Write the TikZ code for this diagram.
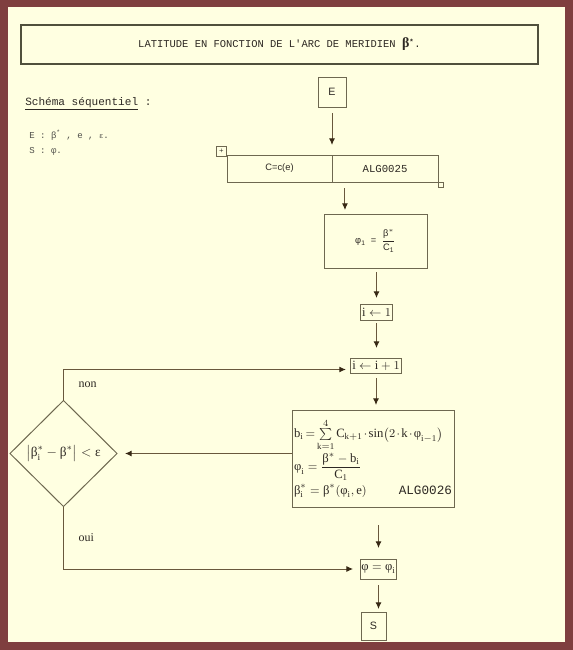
\documentclass[tikz,border=0pt]{standalone}
\usepackage{amsmath}
\usepackage{fontspec}
\setmainfont{Liberation Serif}
\setsansfont{Liberation Sans}
\setmonofont{Liberation Mono}
\usetikzlibrary{shapes.geometric, arrows.meta, positioning}
\definecolor{frame}{RGB}{127, 63, 63}
\definecolor{paper}{RGB}{255, 255, 225}
\definecolor{boxc}{RGB}{110, 104, 80}
\definecolor{titlec}{RGB}{80, 80, 60}
\definecolor{linec}{RGB}{105, 88, 60}
\definecolor{headc}{RGB}{55, 40, 20}
\definecolor{textc}{RGB}{45, 40, 35}
\definecolor{graytext}{RGB}{80, 80, 75}
\newcommand{\gbeta}{\textrm{β}}
\newcommand{\gphi}{\textrm{φ}}
\newcommand{\geps}{\textrm{ε}}

\begin{document}
\begin{tikzpicture}[
    x=0.75pt, y=-0.75pt,
    font=\rmfamily,
    block/.style={rectangle, draw=boxc, line width=0.75pt, fill=paper, text=textc, inner sep=1pt, outer sep=0pt, align=center},
    titlebox/.style={rectangle, draw=titlec, line width=1.1pt, text=textc, minimum width=387.75pt, minimum height=29.25pt, font=\ttfamily\fontsize{7.85}{9}\selectfont},
    cell/.style={block, minimum height=20.25pt},
    decision/.style={diamond, draw=boxc, line width=0.75pt, aspect=1, inner sep=0pt, outer sep=0pt, text=textc, minimum width=80.25pt, minimum height=79.5pt, font=\fontsize{10}{12}\selectfont},
    handle/.style={rectangle, draw=boxc, line width=0.5pt, fill=paper, inner sep=0pt, minimum size=7.5pt},
    tag/.style={text=textc, inner sep=0pt, font=\fontsize{9}{11}\selectfont},
    line/.style={draw=linec, line width=0.75pt, -{Latex[length=5pt, width=4.5pt, color=headc]}}
]

    \fill[frame] (0,0) rectangle (573,650);
    \fill[paper] (8,7) rectangle (565,642);

    \node [titlebox] (title) at (279.5,44.5) {LATITUDE EN FONCTION DE L'ARC DE MERIDIEN {\rmfamily\bfseries\fontsize{10.5}{12}\selectfont β}\textsuperscript{\bfseries *}.};

    \node [anchor=west, inner sep=0pt, text=textc, font=\ttfamily\fontsize{8.3}{10}\selectfont] (schema) at (25,104) {\underline{Schéma séquentiel}\ :};
    \node [anchor=west, align=left, inner sep=0pt, text=graytext, font=\ttfamily\fontsize{6.8}{11.25}\selectfont] (io) at (29,142.5) {E : β\textsuperscript{*} , e , {\fontsize{5.5}{6}\selectfont ε}.\\S : φ.};

    \node [block, minimum width=21pt, minimum height=22.5pt, font=\sffamily\fontsize{8}{10}\selectfont] (E) at (332,92) {E};

    \node [cell, minimum width=78.75pt, font=\sffamily\fontsize{7}{9}\selectfont] (cellc) at (279.5,168.5) {C=c(e)};
    \node [cell, minimum width=79.5pt, right=0pt of cellc, font=\ttfamily\fontsize{8}{10}\selectfont] (cella) {ALG0025};
    \node [handle, font=\fontsize{6}{6}\selectfont] (move) at (221.5,151) {+};
    \node [handle, minimum size=3.75pt] (corner) at (440.5,184.5) {};

    \node [block, minimum width=77.25pt, minimum height=40.5pt, font=\sffamily\fontsize{7}{8}\selectfont] (phi1) at (375.5,241) {φ\textsubscript{1}\ \ =\ \ $\dfrac{\textsf{β}^{*}}{\textsf{C}_{\textsf{1}}}$};

    \node [block, minimum width=23.25pt, minimum height=12pt, font=\fontsize{9.5}{11}\selectfont] (init) at (376.5,312) {$\mathrm{i}\leftarrow 1$};
    \node [block, minimum width=34.5pt, minimum height=11.25pt, font=\fontsize{9.5}{11}\selectfont] (incr) at (376,365.5) {$\mathrm{i}\leftarrow\mathrm{i}+1$};

    \node [block, text width=118.5pt, minimum height=72.75pt, inner sep=1.5pt, align=left, font=\fontsize{9.5}{11}\selectfont] (formula) at (373,458.5) {\mbox{\medmuskip=2mu\thickmuskip=3mu$\mathrm{b_i} = \sum\limits_{\mathrm{k=1}}^{4}\mathrm{C_{k+1}}\cdot\sin\bigl(2\cdot\mathrm{k}\cdot\gphi_{\mathrm{i-1}}\bigr)$}\\[1pt]
        $\gphi_{\mathrm i} = \dfrac{\gbeta^{*}-\mathrm{b_i}}{\mathrm{C_1}}$\\[2pt]
        $\gbeta^{*}_{\mathrm i} = \gbeta^{*}(\gphi_{\mathrm i},\mathrm{e})$\hfill{\ttfamily\fontsize{9.5}{11}\selectfont ALG0026}};

    \node [decision] (test) at (63.5,453.5) {$\bigl|\gbeta^{*}_{\mathrm i}-\gbeta^{*}\bigr| < \geps$};

    \node [block, minimum width=26.25pt, minimum height=15pt, font=\fontsize{9.5}{11}\selectfont] (phieq) at (378.5,569) {$\gphi = \gphi_{\mathrm i}$};
    \node [block, minimum width=18.75pt, minimum height=21pt, font=\sffamily\fontsize{8}{10}\selectfont] (S) at (373.5,626) {S};

    \coordinate (phi1in) at ([xshift=-22.9pt]phi1.north);

    \path [line, shorten <=4.5pt, shorten >=7.5pt] (E.south) -- (E.south |- cellc.north);
    \path [line, shorten <=4.5pt, shorten >=3pt] (phi1in |- cella.south) -- (phi1in);
    \path [line, shorten <=3pt, shorten >=4.5pt] (init |- phi1.south) -- (init.north);
    \path [line, shorten <=2.25pt, shorten >=7.5pt] (init.south) -- (init.south |- incr.north);
    \path [line, shorten <=3.75pt, shorten >=3.75pt] (incr.south) -- (incr.south |- formula.north);
    \path [line, shorten >=6pt] (test.east -| formula.west) -- (test.east);
    \path [line, shorten >=3.75pt] (test.north) |- node[tag, pos=0.25, right=11pt] (non) {non} ([yshift=-3pt]incr.west);
    \path [line, shorten <=13.5pt, shorten >=8.25pt] (phieq |- formula.south) -- (phieq.north);
    \path [line, shorten >=5.25pt] (test.south) |- node[tag, pos=0.25, right=11pt] (oui) {oui} (phieq.west);
    \path [line, shorten <=4.5pt, shorten >=2.25pt] (phieq.south) -- (phieq.south |- S.north);

\end{tikzpicture}
\end{document}
